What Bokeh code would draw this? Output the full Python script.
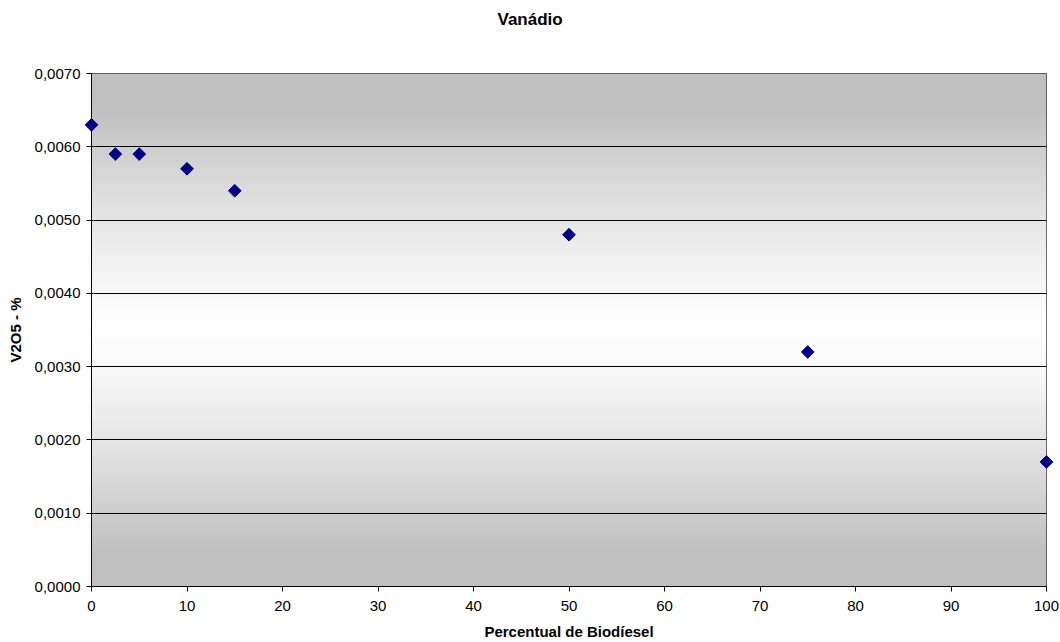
import numpy as np
from bokeh.plotting import figure
from bokeh.models import Range1d, FixedTicker, Title
from bokeh.embed import file_html
from bokeh.resources import INLINE

# data
biodiesel_pct = [0, 2.5, 5, 10, 15, 50, 75, 100]
v2o5_pct = [0.0063, 0.0059, 0.0059, 0.0057, 0.0054, 0.0048, 0.0032, 0.0017]
x_ticks = [0, 10, 20, 30, 40, 50, 60, 70, 80, 90, 100]
y_ticks = [0.0, 0.001, 0.002, 0.003, 0.004, 0.005, 0.006, 0.007]
y_tick_labels = ["0,0000", "0,0010", "0,0020", "0,0030", "0,0040", "0,0050", "0,0060", "0,0070"]
chart_title = "Vanádio"

FONT = "Liberation Sans"

p = figure(width=1060, height=642, output_backend="svg", toolbar_location=None,
           x_range=Range1d(0, 100), y_range=Range1d(0, 0.007),
           min_border_left=91, min_border_right=14, min_border_top=73, min_border_bottom=55,
           title=chart_title)

p.background_fill_color = "white"
p.border_fill_color = "white"
p.outline_line_color = "#404040"
p.outline_line_width = 1

# gradient background of plot area
n = 400
t = np.linspace(-1, 1, n)
g = 255 - 63 * np.clip(np.abs(t) * 1.15, 0, 1) ** 1.3
img = np.zeros((n, 2), dtype=np.uint32)
view = img.view(dtype=np.uint8).reshape((n, 2, 4))
for i in range(n):
    view[i, :, 0] = int(g[i])
    view[i, :, 1] = int(g[i])
    view[i, :, 2] = int(g[i])
    view[i, :, 3] = 255
p.image_rgba(image=[img], x=0, y=0, dw=100, dh=0.007, level="image")

# spacer between title and plot area
p.add_layout(Title(text=" ", text_font_size="2px", standoff=29), "above")

# title
p.title.text_font = FONT
p.title.text_font_size = "17px"
p.title.text_font_style = "bold"
p.title.text_color = "black"
p.title.align = "left"
p.title.offset = 406
p.title.vertical_align = "top"
p.title.standoff = 19

# axes
for ax in (p.xaxis[0], p.yaxis[0]):
    ax.axis_line_color = "black"
    ax.axis_line_width = 1
    ax.major_tick_line_color = "black"
    ax.major_tick_out = 5
    ax.major_tick_in = 0
    ax.minor_tick_out = 0
    ax.minor_tick_in = 0
    ax.major_label_text_font = FONT
    ax.major_label_text_font_size = "15px"
    ax.major_label_text_color = "black"
    ax.axis_label_text_font = FONT
    ax.axis_label_text_font_size = "15px"
    ax.axis_label_text_font_style = "bold"
    ax.axis_label_text_color = "black"

p.xaxis.ticker = FixedTicker(ticks=x_ticks)
p.yaxis.ticker = FixedTicker(ticks=y_ticks)
p.yaxis.major_label_overrides = {v: s for v, s in zip(y_ticks, y_tick_labels)}
p.xaxis.axis_label = "Percentual de Biodíesel"
p.yaxis.axis_label = "V2O5 - %"
p.xaxis.major_label_standoff = 9
p.yaxis.major_label_standoff = 6
p.xaxis.axis_label_standoff = 9
p.yaxis.axis_label_standoff = 8

# grid
p.xgrid.grid_line_color = None
p.ygrid.ticker = FixedTicker(ticks=y_ticks[1:-1])
p.ygrid.grid_line_color = "black"
p.ygrid.grid_line_width = 1

p.scatter(x=biodiesel_pct, y=v2o5_pct, marker="square", angle=np.pi / 4, size=9,
          fill_color="#000080", line_color="#000080", level="overlay")

open("out.html", "w").write(file_html(p, INLINE))
